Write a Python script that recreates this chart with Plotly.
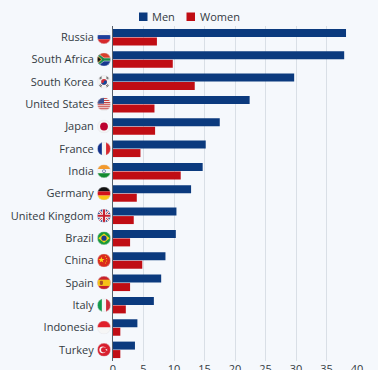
import base64
import plotly.graph_objects as go

countries = ["Russia", "South Africa", "South Korea", "United States", "Japan", "France", "India",
             "Germany", "United Kingdom", "Brazil", "China", "Spain", "Italy", "Indonesia", "Turkey"]
men = [38.2, 37.9, 29.7, 22.4, 17.5, 15.2, 14.7, 12.8, 10.4, 10.3, 8.6, 7.9, 6.7, 4.0, 3.6]
women = [7.2, 9.8, 13.4, 6.8, 6.9, 4.5, 11.1, 3.9, 3.4, 2.8, 4.8, 2.8, 2.1, 1.2, 1.2]
x_ticks = [0, 5, 10, 15, 20, 25, 30, 35, 40]

NAVY = "#0b3a7e"
RED = "#c00d14"
BG = "#f5f8fc"
TEXT = "#333a42"

flag_art = {
    "Russia": '<rect width="26" height="9" fill="#f4f4f4"/><rect y="9" width="26" height="8" fill="#1f3f9a"/><rect y="17" width="26" height="9" fill="#d6282b"/>',
    "South Africa": '<rect width="26" height="13" fill="#d8402c"/><rect y="13" width="26" height="13" fill="#16378f"/><path d="M0 0L13 13L0 26Z" fill="#111"/><path d="M0 0L13 10H26V16H13L0 26V21L9 13L0 5Z" fill="#1b8a4a" stroke="#fff" stroke-width="1"/><path d="M0 6L8 13L0 20Z" fill="#111" stroke="#f3bf2f" stroke-width="1.5"/>',
    "South Korea": '<rect width="26" height="26" fill="#f4f4f4"/><circle cx="13" cy="13" r="5.5" fill="#cd2e3a"/><path d="M7.5 13a5.5 5.5 0 0 0 11 0a2.75 2.75 0 0 0-5.5 0a2.75 2.75 0 0 1-5.5 0Z" fill="#0f4a9c"/><path d="M4 6l4-3M5 8l4-3M18 3l4 3M17 5l4 3M4 20l4 3M5 18l4 3M18 23l4-3M17 21l4-3" stroke="#222" stroke-width="1.4"/>',
    "United States": '<rect width="26" height="26" fill="#f2f2f2"/><path d="M0 2H26M0 6H26M0 10H26M0 14H26M0 18H26M0 22H26" stroke="#c9403f" stroke-width="2"/><rect width="13" height="12" fill="#3c4f8f"/>',
    "Japan": '<rect width="26" height="26" fill="#f4f4f4"/><circle cx="13" cy="13" r="7.5" fill="#bc002d"/>',
    "France": '<rect width="9" height="26" fill="#10308c"/><rect x="9" width="8" height="26" fill="#f4f4f4"/><rect x="17" width="9" height="26" fill="#d8262e"/>',
    "India": '<rect width="26" height="9" fill="#f39a2d"/><rect y="9" width="26" height="8" fill="#f4f4f4"/><rect y="17" width="26" height="9" fill="#128a2f"/><circle cx="13" cy="13" r="3" fill="none" stroke="#1a2f80" stroke-width="1"/>',
    "Germany": '<rect width="26" height="9" fill="#111"/><rect y="9" width="26" height="8" fill="#d3121c"/><rect y="17" width="26" height="9" fill="#f9c414"/>',
    "United Kingdom": '<rect width="26" height="26" fill="#1f3a86"/><path d="M0 0L26 26M26 0L0 26" stroke="#f2f2f2" stroke-width="5"/><path d="M0 0L26 26M26 0L0 26" stroke="#c8202f" stroke-width="1.8"/><path d="M13 0V26M0 13H26" stroke="#f2f2f2" stroke-width="7"/><path d="M13 0V26M0 13H26" stroke="#c8202f" stroke-width="4"/>',
    "Brazil": '<rect width="26" height="26" fill="#179a3a"/><path d="M13 4L24 13L13 22L2 13Z" fill="#f5d516"/><circle cx="13" cy="13" r="5" fill="#1d3b8b"/>',
    "China": '<rect width="26" height="26" fill="#da2a1c"/><path d="M8 6l1.4 4.2H14l-3.6 2.6 1.4 4.2L8 14.4 4.4 17l1.4-4.2L2.200 10.200H6.600Z" fill="#fbd814"/><circle cx="16" cy="5" r="1" fill="#fbd814"/><circle cx="18" cy="9" r="1" fill="#fbd814"/><circle cx="18" cy="14" r="1" fill="#fbd814"/><circle cx="16" cy="18" r="1" fill="#fbd814"/>',
    "Spain": '<rect width="26" height="26" fill="#c8202b"/><rect y="7" width="26" height="12" fill="#f6c218"/><rect x="5" y="9" width="6" height="8" rx="2" fill="#a8502a"/>',
    "Italy": '<rect width="9" height="26" fill="#119a4a"/><rect x="9" width="8" height="26" fill="#f4f4f4"/><rect x="17" width="9" height="26" fill="#ce2b37"/>',
    "Indonesia": '<rect width="26" height="13" fill="#e0202b"/><rect y="13" width="26" height="13" fill="#f6f6f6"/>',
    "Turkey": '<rect width="26" height="26" fill="#d81f2e"/><circle cx="10.500" cy="13" r="6.500" fill="#f6f6f6"/><circle cx="12.500" cy="13" r="5.200" fill="#d81f2e"/><path d="M15 13l5-2-3 4v-4l3 4Z" fill="#f6f6f6"/>',
}


def flag_uri(art):
    svg = ('<svg xmlns="http://www.w3.org/2000/svg" width="26" height="26" viewBox="0 0 26 26">'
           '<defs><clipPath id="c"><circle cx="13" cy="13" r="13"/></clipPath></defs>'
           f'<g clip-path="url(#c)">{art}</g>'
           '<circle cx="13" cy="13" r="12.600" fill="none" stroke="#dfe3e8" stroke-width="0.800"/></svg>')
    return "data:image/svg+xml;base64," + base64.b64encode(svg.encode()).decode()


fig = go.Figure()
fig.add_bar(name="Men", y=countries, x=men, orientation="h", marker=dict(color=NAVY, line_width=0))
fig.add_bar(name="Women", y=countries, x=women, orientation="h", marker=dict(color=RED, line_width=0))

W, H = 378, 370
ml, mr, mt, mb = 113, 21, 26, 9
plot_w = W - ml - mr
plot_h = H - mt - mb
images = []
for c in countries:
    images.append(dict(source=flag_uri(flag_art[c]), xref="paper", yref="y", x=-9 / plot_w, y=c,
                       sizex=13.500 / plot_w, sizey=13.500 / (plot_h / len(countries)),
                       xanchor="center", yanchor="middle", sizing="contain", layer="above"))


def px_x(p):
    return (p - ml) / plot_w


def px_y(p):
    return 1 - (p - mt) / plot_h


# Compact legend placed above the plot
shapes = []
annotations = []
for name, color, sx, tx in [("Men", NAVY, 139, 151), ("Women", RED, 186.500, 199)]:
    shapes.append(dict(type="rect", xref="paper", yref="paper", x0=px_x(sx), x1=px_x(sx + 8.500),
                       y0=px_y(21), y1=px_y(12.500), fillcolor=color, line_width=0))
    annotations.append(dict(text=name, xref="paper", yref="paper", x=px_x(tx), y=px_y(16.500),
                            xanchor="left", yanchor="middle", showarrow=False,
                            font=dict(size=11, color=TEXT), xshift=0, borderpad=0))

fig.update_layout(
    width=W, height=H,
    margin=dict(l=ml, r=mr, t=mt, b=mb, pad=0),
    paper_bgcolor=BG, plot_bgcolor=BG,
    font=dict(family="Open Sans", size=11, color=TEXT),
    barmode="group", bargap=0.24, bargroupgap=0.06,
    images=images,
    shapes=shapes,
    annotations=annotations,
    showlegend=False,
    xaxis=dict(range=[0, 40], tickvals=x_ticks, showgrid=True, gridcolor="#d9dfe6", gridwidth=1,
               zeroline=False, showline=False, ticks="", tickfont=dict(size=11), automargin=False),
    yaxis=dict(autorange="reversed", ticks="", showline=True, linecolor="#59616b", linewidth=1,
               ticklabelstandoff=16, tickfont=dict(size=11), automargin=False),
)
fig.write_html("out.html", config=dict(displayModeBar=False),
               post_script="document.body.style.margin='0';document.body.style.overflow='hidden';"
                           "document.body.style.background='" + BG + "';")
